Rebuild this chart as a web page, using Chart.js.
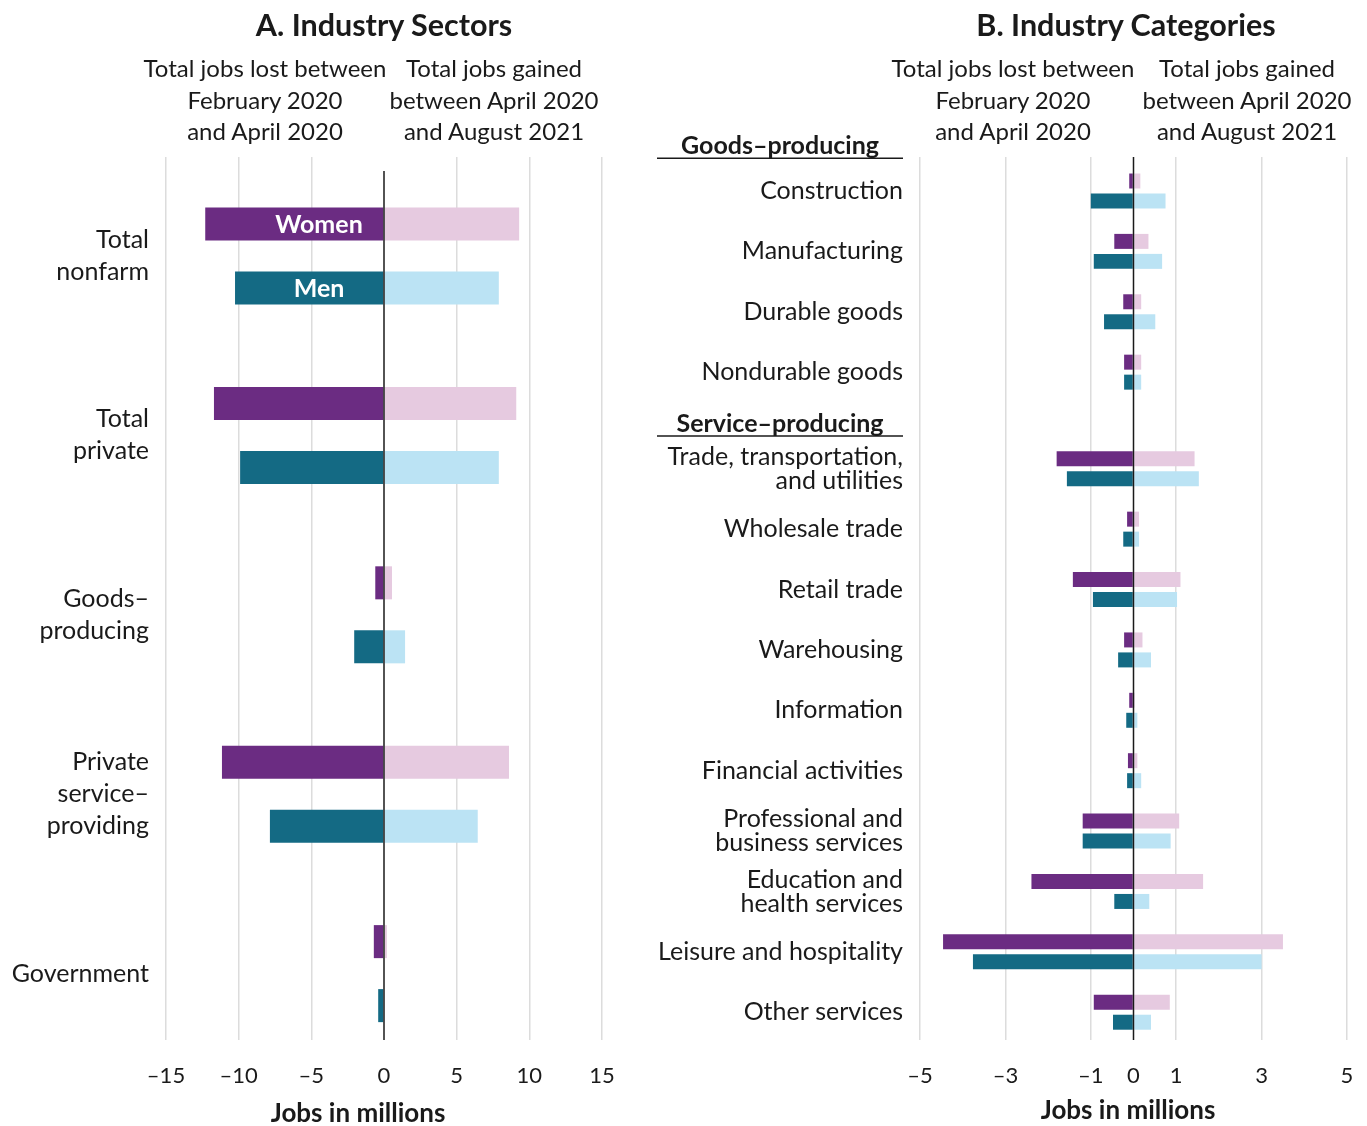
<!DOCTYPE html>
<html>
<head>
<meta charset="utf-8">
<script src="https://cdn.jsdelivr.net/npm/chart.js@4.4.1/dist/chart.umd.min.js"></script>
<style>
  body { margin: 0; background: #fff; font-family: Lato, sans-serif; color: #1a1a1a; }
  #wrap { position: relative; width: 1367px; height: 1126px; overflow: hidden; }
  .box { position: absolute; top: 0; height: 1126px; }
  .t { position: absolute; width: 400px; text-align: center; white-space: nowrap; }
  .title { font-weight: bold; font-size: 30.5px; line-height: 34px; }
  .sub { font-size: 24px; line-height: 31.5px; }
  .axt { font-weight: bold; font-size: 26px; line-height: 28px; }
</style>
</head>
<body>
<div id="wrap">
  <div class="box" style="left:0;width:640px"><canvas id="sectors"></canvas></div>
  <div class="box" style="left:640px;width:727px"><canvas id="industries"></canvas></div>

  <div class="t title" style="left:184px;top:7px">A. Industry Sectors</div>
  <div class="t sub" style="left:65px;top:52px">Total jobs lost between<br>February 2020<br>and April 2020</div>
  <div class="t sub" style="left:294px;top:52px">Total jobs gained<br>between April 2020<br>and August 2021</div>
  <div class="t axt" style="left:158px;top:1098px">Jobs in millions</div>

  <div class="t title" style="left:926px;top:7px">B. Industry Categories</div>
  <div class="t sub" style="left:813px;top:52px">Total jobs lost between<br>February 2020<br>and April 2020</div>
  <div class="t sub" style="left:1047px;top:52px">Total jobs gained<br>between April 2020<br>and August 2021</div>
  <div class="t axt" style="left:928px;top:1095px">Jobs in millions</div>
</div>
<script>
// Panel A: industry sectors (millions of jobs)
const sectorLabels = [['Total', 'nonfarm'], ['Total', 'private'], ['Goods–', 'producing'], ['Private', 'service–', 'providing'], 'Government'];
const sectorWomenLost = [-12.3, -11.7, -0.6, -11.15, -0.7];
const sectorWomenGained = [9.3, 9.1, 0.55, 8.6, 0.2];
const sectorMenLost = [-10.25, -9.9, -2.05, -7.85, -0.4];
const sectorMenGained = [7.9, 7.9, 1.45, 6.45, 0.05];
const sectorTicks = [-15, -10, -5, 0, 5, 10, 15];

// Panel B: industry categories
const industryLabels = ['Construction', 'Manufacturing', 'Durable goods', 'Nondurable goods',
  ['Trade, transportation,', 'and utilities'], 'Wholesale trade', 'Retail trade', 'Warehousing',
  'Information', 'Financial activities', ['Professional and', 'business services'],
  ['Education and', 'health services'], 'Leisure and hospitality', 'Other services'];
const industryGroup = ['goods', 'goods', 'goods', 'goods', 'service', 'service', 'service', 'service',
  'service', 'service', 'service', 'service', 'service', 'service'];
const industryHeaders = [['Goods–producing', 'goods'], ['Service–producing', 'service']];
const industryWomenLost = [-0.1, -0.45, -0.24, -0.22, -1.8, -0.15, -1.42, -0.22, -0.1, -0.13, -1.19, -2.39, -4.46, -0.93];
const industryWomenGained = [0.16, 0.35, 0.18, 0.18, 1.43, 0.13, 1.1, 0.21, 0.03, 0.09, 1.07, 1.63, 3.5, 0.85];
const industryMenLost = [-1.0, -0.93, -0.69, -0.22, -1.56, -0.24, -0.95, -0.36, -0.17, -0.15, -1.19, -0.45, -3.76, -0.48];
const industryMenGained = [0.75, 0.67, 0.51, 0.18, 1.53, 0.13, 1.02, 0.41, 0.09, 0.18, 0.87, 0.37, 3.0, 0.41];
const industryTicks = [-5, -3, -1, 0, 1, 3, 5];

const purple = '#6b2c82', pink = '#e6cae0', teal = '#146a84', sky = '#bbe3f4';
const ink = '#1a1a1a';
const font = 'Lato, sans-serif';

// row positions on the y scale; the service block is pushed down to leave room for its header
const sectorRows = sectorLabels.map((l, i) => i);
const industryRows = industryLabels.map((l, i) => industryGroup[i] === 'service' ? i + 0.6 : i);

const minusFmt = v => v < 0 ? '\u2013' + Math.abs(v) : String(v);

const overlay = {
  id: 'overlay',
  afterDatasetsDraw(chart, args, opts) {
    const ctx = chart.ctx, area = chart.chartArea;
    const x0 = chart.scales.x.getPixelForValue(0);
    ctx.save();
    ctx.strokeStyle = ink;
    ctx.lineWidth = 1.5;
    ctx.beginPath();
    ctx.moveTo(x0, area.top + (opts.zeroInset || 0));
    ctx.lineTo(x0, area.bottom);
    ctx.stroke();

    // Women / Men labels inside the first row
    (opts.barLabels || []).forEach(([dsIndex, text]) => {
      const bar = chart.getDatasetMeta(dsIndex).data[0];
      ctx.fillStyle = '#fff';
      ctx.font = 'bold 25px ' + font;
      ctx.textAlign = 'center';
      ctx.textBaseline = 'middle';
      ctx.fillText(text, x0 - 65, bar.y + 1);
    });

    // group headers with underline
    (opts.headers || []).forEach(([text, pos]) => {
      const y = chart.scales.y.getPixelForValue(pos);
      ctx.fillStyle = ink;
      ctx.font = 'bold 25px ' + font;
      ctx.textAlign = 'center';
      ctx.textBaseline = 'middle';
      ctx.fillText(text, area.left - 140, y);
      ctx.beginPath();
      ctx.moveTo(area.left - 263, y + 12);
      ctx.lineTo(area.left - 17, y + 12);
      ctx.stroke();
    });
    ctx.restore();
  }
};

function makeChart(id, cfg) {
  const series = (vals, color, stack) => ({
    data: vals.map((v, i) => ({ x: v, y: cfg.rows[i] })),
    backgroundColor: color,
    stack: stack,
    categoryPercentage: cfg.catPct,
    barPercentage: cfg.barPct
  });
  return new Chart(document.getElementById(id), {
    type: 'bar',
    data: {
      datasets: [
        series(cfg.womenLost, purple, 'women'),
        series(cfg.womenGained, pink, 'women'),
        series(cfg.menLost, teal, 'men'),
        series(cfg.menGained, sky, 'men')
      ]
    },
    options: {
      indexAxis: 'y',
      responsive: true,
      maintainAspectRatio: false,
      animation: false,
      layout: { padding: { top: 157, right: cfg.right, left: 0, bottom: 0 } },
      plugins: {
        legend: { display: false },
        tooltip: { enabled: false },
        overlay: cfg.overlay
      },
      scales: {
        x: {
          type: 'linear',
          min: cfg.ticks[0],
          max: cfg.ticks[cfg.ticks.length - 1],
          stacked: true,
          afterBuildTicks: s => { s.ticks = cfg.ticks.map(v => ({ value: v })); },
          afterFit: s => { s.height = 86; },
          border: { display: false },
          grid: {
            drawTicks: true,
            tickLength: 23,
            tickColor: 'rgba(0,0,0,0)',
            lineWidth: 1.5,
            color: c => c.tick && c.tick.value === 0 ? 'rgba(0,0,0,0)' : '#dcdcdc'
          },
          ticks: { padding: 0, color: ink, font: { family: font, size: 22 }, callback: minusFmt }
        },
        y: {
          type: 'linear',
          reverse: true,
          offset: false,
          min: cfg.yMin,
          max: cfg.yMax,
          stacked: true,
          afterBuildTicks: s => { s.ticks = cfg.rows.map(v => ({ value: v })); },
          afterFit: s => { s.width = cfg.left; },
          border: { display: false },
          grid: { display: false, drawTicks: false },
          ticks: {
            autoSkip: false,
            padding: 17,
            color: ink,
            font: { family: font, size: 25, lineHeight: cfg.lineHeight },
            callback: v => cfg.labels[cfg.rows.indexOf(v)]
          }
        }
      }
    },
    plugins: [overlay]
  });
}

makeChart('sectors', {
  rows: sectorRows, labels: sectorLabels, ticks: sectorTicks,
  womenLost: sectorWomenLost, womenGained: sectorWomenGained,
  menLost: sectorMenLost, menGained: sectorMenGained,
  catPct: 0.7135, barPct: 0.516,
  yMin: -0.552, yMax: 4.37, left: 166, right: 38, lineHeight: 1.28,
  overlay: { zeroInset: 14, barLabels: [[0, 'Women'], [2, 'Men']] }
});

makeChart('industries', {
  rows: industryRows, labels: industryLabels, ticks: industryTicks,
  womenLost: industryWomenLost, womenGained: industryWomenGained,
  menLost: industryMenLost, menGained: industryMenGained,
  catPct: 0.662, barPct: 0.75,
  yMin: -0.563, yMax: 14.06, left: 280, right: 20, lineHeight: 0.96,
  overlay: {
    zeroInset: 0,
    headers: industryHeaders.map(([text, g]) => [text, industryRows[industryGroup.indexOf(g)] - 0.74])
  }
});
</script>
</body>
</html>
